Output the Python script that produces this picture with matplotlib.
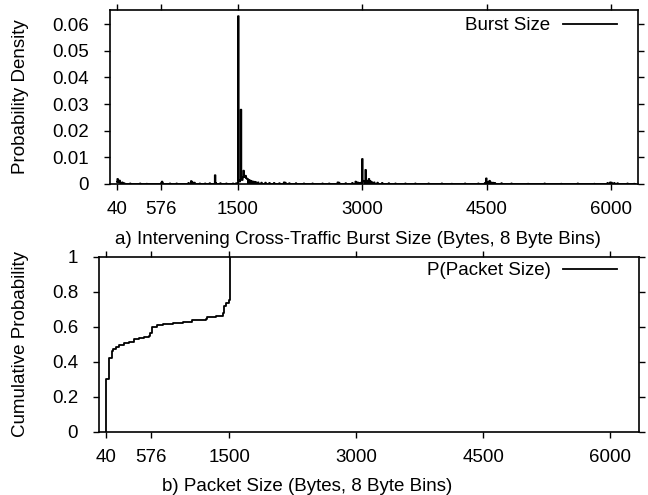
import matplotlib
matplotlib.use("Agg")
import matplotlib.pyplot as plt
import numpy as np

plt.rcParams['font.family'] = ['Liberation Sans', 'DejaVu Sans']
plt.rcParams['font.size'] = 13.5

# a) burst size histogram, 8 byte bins: only bins with visible mass are listed
burst_bins = [40, 48, 56, 64, 72, 80, 104, 128, 200, 320, 400, 576, 584, 592,
              680, 760, 904, 936, 952, 976, 1040, 1104, 1160, 1224, 1232, 1288,
              1360, 1440, 1480, 1504, 1512, 1520, 1528, 1536, 1544, 1552, 1560,
              1568, 1576, 1584, 1592, 1600, 1608, 1616, 1632, 1648, 1664, 1688,
              1712, 1744, 1784, 1832, 1880, 1936, 2000, 2056, 2072, 2120, 2200,
              2296, 2400, 2520, 2600, 2704, 2720, 2800, 2880, 2920, 2944, 2968,
              2984, 3000, 3008, 3016, 3024, 3040, 3048, 3064, 3080, 3096, 3112,
              3144, 3184, 3240, 3320, 3400, 3520, 3640, 3800, 3960, 4080, 4240,
              4400, 4480, 4496, 4504, 4520, 4536, 4552, 4576, 4600, 4680, 4800,
              5000, 5200, 5400, 5600, 5800, 5960, 5992, 6008, 6040, 6080, 6200,
              6280]
burst_density = [0.0008, 0.0019, 0.0006, 0.0009, 0.0013, 0.0005, 0.0006, 0.0003,
                 0.0002, 0.0002, 0.0001, 0.0004, 0.0009, 0.0003, 0.0002, 0.0002,
                 0.0004, 0.0011, 0.0006, 0.0005, 0.0002, 0.0002, 0.0003, 0.0033,
                 0.0004, 0.0003, 0.0002, 0.0002, 0.0003, 0.0630, 0.0012, 0.0009,
                 0.0015, 0.0279, 0.0020, 0.0015, 0.0025, 0.0050, 0.0030, 0.0026,
                 0.0031, 0.0022, 0.0020, 0.0019, 0.0015, 0.0013, 0.0011, 0.0009,
                 0.0008, 0.0006, 0.0005, 0.0005, 0.0004, 0.0004, 0.0003, 0.0006,
                 0.0005, 0.0003, 0.0003, 0.0002, 0.0002, 0.0002, 0.0002, 0.0006,
                 0.0005, 0.0003, 0.0004, 0.0009, 0.0006, 0.0004, 0.0005, 0.0094,
                 0.0012, 0.0010, 0.0008, 0.0053, 0.0010, 0.0012, 0.0019, 0.0011,
                 0.0008, 0.0006, 0.0005, 0.0004, 0.0003, 0.0002, 0.0002, 0.0002,
                 0.0002, 0.0002, 0.0001, 0.0002, 0.0002, 0.0004, 0.0021, 0.0005,
                 0.0008, 0.0012, 0.0006, 0.0005, 0.0004, 0.0003, 0.0002, 0.0001,
                 0.0002, 0.0001, 0.0002, 0.0001, 0.0004, 0.0006, 0.0005, 0.0004,
                 0.0003, 0.0002, 0.0001]
burst_first, burst_last = 40, 6296

# b) packet size CDF (step points)
pkt_size = [48, 48, 80, 112, 128, 160, 200, 256, 320, 376, 432, 496, 552, 568,
            592, 648, 712, 832, 952, 1064, 1224, 1240, 1344, 1424, 1432, 1464,
            1496, 1512]
pkt_cdf = [0.0, 0.30, 0.42, 0.46, 0.472, 0.486, 0.495, 0.507, 0.516, 0.528,
           0.535, 0.541, 0.547, 0.562, 0.60, 0.61, 0.615, 0.621, 0.627, 0.638,
           0.646, 0.657, 0.663, 0.676, 0.718, 0.737, 0.752, 1.0]

xticks = [40, 576, 1500, 3000, 4500, 6000]

grid = np.arange(burst_first, burst_last + 8, 8)
hist = np.zeros(len(grid))
for b, d in zip(burst_bins, burst_density):
    hist[(b - burst_first) // 8] = d

fig = plt.figure(figsize=(6.48, 4.95), dpi=100)
ax1 = fig.add_axes([0.1698, 0.6283, 0.8148, 0.3515])
ax2 = fig.add_axes([0.1528, 0.1273, 0.8333, 0.3541])

ax1.plot(grid, hist, color='black', lw=1.3, drawstyle='steps-mid', label='Burst Size')
ax1.set_xlim(-44, 6326)
ax1.set_ylim(0, 0.0653)
ax1.set_yticks([0, 0.01, 0.02, 0.03, 0.04, 0.05, 0.06])
ax1.set_yticklabels(['0', '0.01', '0.02', '0.03', '0.04', '0.05', '0.06'])
ax1.set_ylabel('Probability Density')
ax1.yaxis.set_label_coords(-0.153, 0.5)
ax1.set_xlabel('a) Intervening Cross-Traffic Burst Size (Bytes, 8 Byte Bins)')
ax1.xaxis.set_label_coords(0.4697, -0.27)

ax2.plot(pkt_size, pkt_cdf, color='black', lw=1.3, drawstyle='steps-post', label='P(Packet Size)')
ax2.set_xlim(-39, 6339)
ax2.set_ylim(0, 1)
ax2.set_yticks([0, 0.2, 0.4, 0.6, 0.8, 1])
ax2.set_yticklabels(['0', '0.2', '0.4', '0.6', '0.8', '1'])
ax2.set_ylabel('Cumulative Probability')
ax2.yaxis.set_label_coords(-0.130, 0.5)
ax2.set_xlabel('b) Packet Size (Bytes, 8 Byte Bins)')
ax2.xaxis.set_label_coords(0.385, -0.265)

for ax, ly in ((ax1, 0.96), (ax2, 0.97)):
    ax.set_xticks(xticks)
    ax.tick_params(direction='out', length=4, width=1, top=True, right=True)
    ax.tick_params(axis='x', pad=8)
    ax.tick_params(axis='y', pad=11)
    for s in ax.spines.values():
        s.set_linewidth(1.2)
    ax.legend(loc='upper right', bbox_to_anchor=(0.96, ly), frameon=False,
              markerfirst=False, handlelength=2.9, handletextpad=0.65,
              borderaxespad=0, borderpad=0)

fig.savefig('out.png', dpi=100)
